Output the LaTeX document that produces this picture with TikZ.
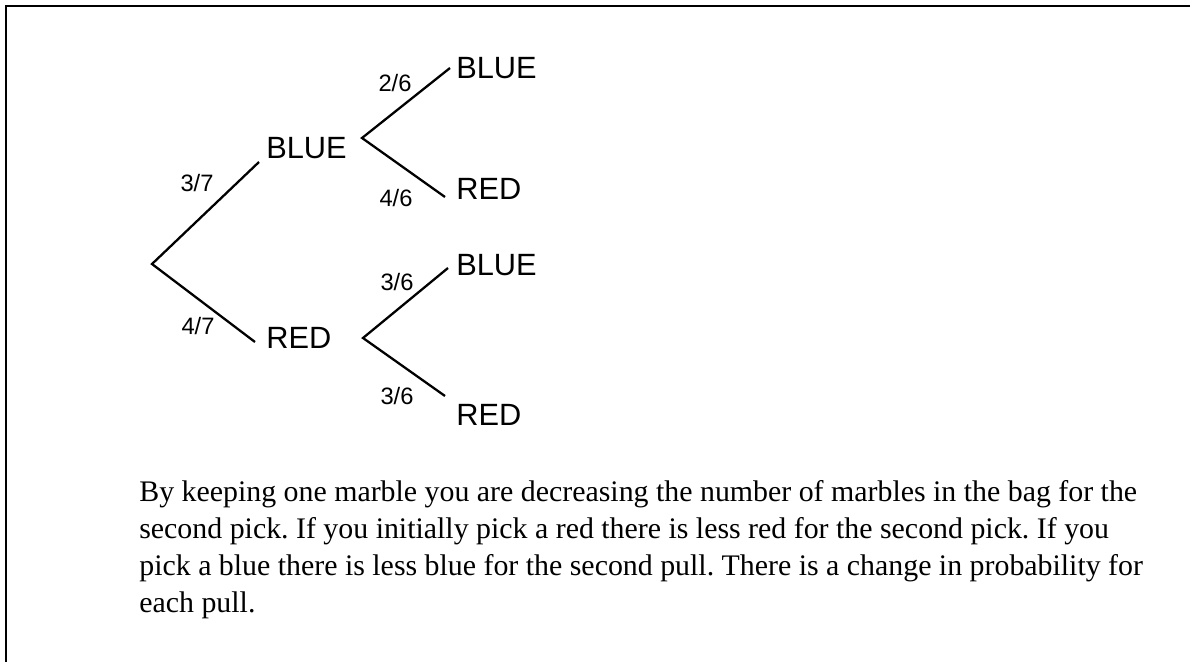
\documentclass[tikz,border=0pt]{standalone}
\usepackage{fontspec}
\setmainfont{Liberation Serif}
\newfontfamily\treefont{Liberation Sans}

\begin{document}
\begin{tikzpicture}[
  x=0.02cm, y=-0.02cm,
  branch/.style={line width=1.3pt},
  outcome/.style={anchor=west, inner sep=0pt, font=\treefont\fontsize{17.5}{20}\selectfont},
  prob/.style={inner sep=0pt, font=\treefont\fontsize{13.5}{15}\selectfont},
  note/.style={anchor=north west, align=left, inner sep=0pt,
               font=\frenchspacing\fontsize{17}{21}\selectfont}
]
  \useasboundingbox (0,0) rectangle (1190,662);
  \draw[line width=0.6pt] (6,662) -- (6,6) -- (1190,6);

  \coordinate (root) at (152,264);
  \coordinate (bjoin) at (362,138);
  \coordinate (rjoin) at (363,338);
  \coordinate (b1end) at (259,162);
  \coordinate (r1end) at (255,342);
  \coordinate (bbend) at (450,68);
  \coordinate (brend) at (445,197);
  \coordinate (rbend) at (448,268);
  \coordinate (rrend) at (445,396);

  \node[outcome] (blue1) at (266,148) {BLUE};
  \node[outcome] (red1) at (266,338) {RED};
  \node[outcome] (blueblue) at (456,68) {BLUE};
  \node[outcome] (bluered) at (456,189) {RED};
  \node[outcome] (redblue) at (456,265) {BLUE};
  \node[outcome] (redred) at (456,415) {RED};

  \node[prob] (p37) at (197,183) {3/7};
  \node[prob] (p47) at (198,326) {4/7};
  \node[prob] (p26) at (395,83) {2/6};
  \node[prob] (p46) at (396,198) {4/6};
  \node[prob] (p36a) at (397,282) {3/6};
  \node[prob] (p36b) at (397,396) {3/6};

  \draw[branch] (b1end) -- (root) -- (r1end);
  \draw[branch] (bbend) -- (bjoin) -- (brend);
  \draw[branch] (rbend) -- (rjoin) -- (rrend);

  \node[note] (expl) at (139,480) {By keeping one marble you are decreasing the number of marbles in the bag for the\\
second pick. If you initially pick a red there is less red for the second pick. If you\\
pick a blue there is less blue for the second pull. There is a change in probability for\\
each pull.};
\end{tikzpicture}
\end{document}
